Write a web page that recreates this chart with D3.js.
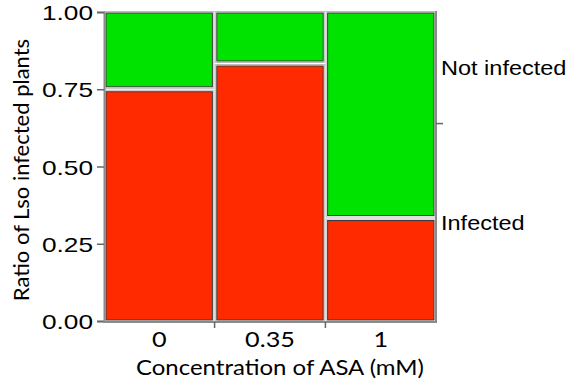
<!DOCTYPE html>
<html><head><meta charset="utf-8">
<script src="https://cdn.jsdelivr.net/npm/d3@7"></script>
<style>body{margin:0;background:#fff}</style>
</head><body>
<script>
const categories = ["0", "0.35", "1"];
const infected = [0.75, 0.8333, 0.3333];
const yTicks = [0, 0.25, 0.5, 0.75, 1];
const levels = ["Infected", "Not infected"];
const colors = ["#ff2a00", "#00e200"];

const W = 571, H = 385;
const svg = d3.select("body").append("svg").attr("width", W).attr("height", H);

const x = d3.scaleBand().domain(categories).range([105, 435]).paddingInner(0.022);
const y = d3.scaleLinear().domain([0, 1]).range([321, 12]);
const overall = d3.mean(infected);
const SANS = "Liberation Sans, Arial, sans-serif";
const HUM = "Lato, Open Sans, sans-serif";

function stretch(sel, ax, ay, sx, anchor) {
  sel.attr("x", 0).attr("y", 0).attr("text-anchor", anchor)
    .attr("transform", `translate(${ax},${ay}) scale(${sx},1)`);
}

// cells
const gap = 1.5;
categories.forEach((c, i) => {
  const x0 = x(c), bw = x.bandwidth();
  const segs = [
    {y0: 0, y1: infected[i], col: colors[0]},
    {y0: infected[i], y1: 1, col: colors[1]}
  ];
  segs.forEach((s, j) => {
    const top = y(s.y1) + (j === 0 ? gap : 0);
    const bot = y(s.y0) - (j === 1 ? gap : 0);
    svg.append("rect").attr("x", x0 - 0.5).attr("y", top - 0.5)
      .attr("width", bw + 1).attr("height", bot - top + 1)
      .attr("fill", "none").attr("stroke", "#bdbdbd").attr("stroke-width", 1);
    svg.append("rect").attr("x", x0 + 1).attr("y", top + 1)
      .attr("width", bw - 2).attr("height", bot - top - 2)
      .attr("fill", s.col).attr("stroke", "#3a3a3a").attr("stroke-width", 1);
  });
});

// left axis
const yAxis = d3.axisLeft(y).tickValues(yTicks).tickFormat(d3.format(".2f")).tickSize(7).tickPadding(4);
const gy = svg.append("g").attr("transform", "translate(104,0)").call(yAxis);
gy.select(".domain").attr("stroke", "#8a8a8a").attr("stroke-width", 2);
gy.selectAll(".tick line").attr("stroke", "#666").attr("stroke-width", 1.5);
gy.selectAll(".tick text").attr("font-family", SANS).attr("font-size", 21).attr("fill", "#000")
  .each(function () { stretch(d3.select(this), -11, 0, 1.25, "end"); })
  .attr("dy", "0.36em");

// bottom axis
const xAxis = d3.axisBottom(x).tickSize(0).tickPadding(15);
const gx = svg.append("g").attr("transform", "translate(0,321)").call(xAxis);
gx.select(".domain").remove();
svg.append("line").attr("x1", 103).attr("x2", 437).attr("y1", 322).attr("y2", 322)
  .attr("stroke", "#8a8a8a").attr("stroke-width", 2);
gx.selectAll(".tick text").attr("font-family", HUM).attr("font-size", 21).attr("fill", "#000")
  .each(function () { stretch(d3.select(this), 0, 26, 1.2, "middle"); })
  .attr("dy", null);
// separator ticks between columns
categories.slice(1).forEach(c => {
  const xs = x(c) - x.step() * x.paddingInner() / 2;
  svg.append("line").attr("x1", xs).attr("x2", xs).attr("y1", 322).attr("y2", 328)
    .attr("stroke", "#666").attr("stroke-width", 1.5);
});

// right axis
svg.append("line").attr("x1", 436).attr("x2", 436).attr("y1", 11).attr("y2", 323)
  .attr("stroke", "#8a8a8a").attr("stroke-width", 2);
svg.append("line").attr("x1", 436).attr("x2", 443).attr("y1", y(overall)).attr("y2", y(overall))
  .attr("stroke", "#666").attr("stroke-width", 1.5);
svg.append("text").attr("font-family", SANS).attr("font-size", 21).attr("dy", "0.35em").text(levels[1])
  .call(s => stretch(s, 441, (y(overall) + y(1)) / 2, 1.12, "start"));
svg.append("text").attr("font-family", SANS).attr("font-size", 21).attr("dy", "0.35em").text(levels[0])
  .call(s => stretch(s, 441, (y(overall) + y(0)) / 2, 1.12, "start"));

// axis titles
svg.append("text").attr("font-family", HUM).attr("font-size", 22).text("Concentration of ASA (mM)")
  .call(s => stretch(s, 280, 375, 1.09, "middle"));
svg.append("text").attr("transform", "translate(29,170) rotate(-90)").attr("text-anchor", "middle")
  .attr("font-family", HUM).attr("font-size", 22)
  .text("Ratio of Lso infected plants");
</script>
</body></html>
